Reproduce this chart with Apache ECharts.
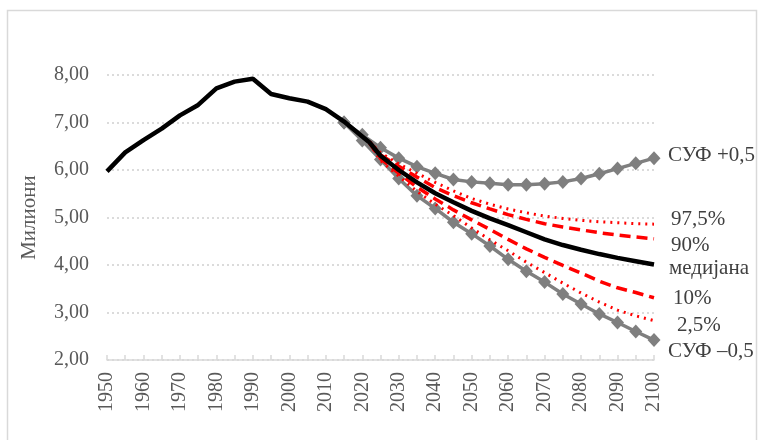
<!DOCTYPE html>
<html>
<head>
<meta charset="utf-8">
<script src="https://cdn.jsdelivr.net/npm/echarts@6/dist/echarts.min.js"></script>
<style>
html,body{margin:0;padding:0;background:#fff;}
#chart{width:762px;height:440px;}
</style>
</head>
<body>
<div id="chart"></div>
<script>
// Historical population (millions)
var histYears = [1950,1955,1960,1965,1970,1975,1980,1985,1990,1995,2000,2005,2010,2015];
var histValues = [5.97,6.37,6.63,6.87,7.15,7.37,7.72,7.86,7.92,7.60,7.51,7.44,7.28,7.02];

// Probabilistic projection
var projYears = [2022,2025,2030,2035,2040,2045,2050,2055,2060,2065,2070,2075,2080,2085,2090,2095,2100];
var median = [6.58,6.30,6.00,5.74,5.51,5.32,5.14,4.98,4.84,4.69,4.54,4.42,4.32,4.23,4.15,4.08,4.01];
var p975   = [6.60,6.36,6.13,5.93,5.74,5.56,5.40,5.28,5.18,5.10,5.03,4.98,4.94,4.91,4.89,4.87,4.86];
var p90    = [6.59,6.32,6.08,5.85,5.63,5.46,5.31,5.18,5.06,4.96,4.87,4.80,4.74,4.68,4.63,4.59,4.55];
var p10    = [6.57,6.24,5.93,5.64,5.39,5.16,4.95,4.75,4.54,4.34,4.16,3.99,3.83,3.66,3.52,3.42,3.31];
var p025   = [6.56,6.20,5.87,5.55,5.28,5.04,4.78,4.53,4.30,4.06,3.84,3.62,3.41,3.22,3.05,2.93,2.83];

// Deterministic TFR variants
var sufYears = [2015,2020,2025,2030,2035,2040,2045,2050,2055,2060,2065,2070,2075,2080,2085,2090,2095,2100];
var sufPlus  = [7.00,6.74,6.47,6.25,6.07,5.93,5.80,5.75,5.72,5.69,5.69,5.71,5.75,5.82,5.92,6.03,6.14,6.25];
var sufMinus = [7.00,6.62,6.22,5.82,5.46,5.19,4.90,4.66,4.40,4.12,3.87,3.64,3.39,3.18,2.97,2.79,2.60,2.42];

// Texts
var yAxisName = 'Милиони';
var endLabels = ['СУФ +0,5','97,5%','90%','медијана','10%','2,5%','СУФ \u20130,5'];

function pairs(xs, ys){ return xs.map(function(x,i){ return [x, ys[i]]; }); }

var FONT = '"Liberation Serif","Times New Roman",serif';
var chart = echarts.init(document.getElementById('chart'), null, {renderer:'canvas'});

var blackData = pairs(histYears, histValues).concat(pairs(projYears, median));

var labelPos = [
  [668,157],[671,221],[671,247],[669,270],[673,300],[677,327],[668,353]
];

chart.setOption({
  animation:false,
  backgroundColor:'#fff',
  grid:{left:107,right:108,top:75,bottom:80,containLabel:false},
  xAxis:{
    type:'value', min:1950, max:2100, interval:5,
    axisLine:{show:true,lineStyle:{color:'#d9d9d9',width:1.5}},
    axisTick:{show:true,inside:true,length:5,lineStyle:{color:'#d9d9d9',width:1.5}},
    splitLine:{show:false},
    axisLabel:{
      rotate:90, margin:12, fontSize:20, color:'#595959', fontFamily:FONT,
      formatter:function(v){ return v % 10 === 0 ? String(v) : ''; }
    }
  },
  yAxis:{
    type:'value', min:2, max:8, interval:1,
    name:yAxisName, nameLocation:'middle', nameGap:67, nameRotate:90,
    nameTextStyle:{fontSize:21,color:'#595959',fontFamily:FONT},
    axisLine:{show:false}, axisTick:{show:false},
    splitLine:{show:true,lineStyle:{color:'#d0d0d0',type:[2,3],width:1.5}},
    axisLabel:{margin:18,fontSize:20,color:'#595959',fontFamily:FONT,
      formatter:function(v){ return v.toFixed(2).replace('.',','); }}
  },
  series:[
    {type:'line', name:'СУФ +0,5', data:pairs(sufYears,sufPlus), symbol:'diamond', symbolSize:[13,14],
      showSymbol:true, itemStyle:{color:'#7f7f7f'}, lineStyle:{color:'#7f7f7f',width:3.5}, z:2},
    {type:'line', name:'СУФ -0,5', data:pairs(sufYears,sufMinus), symbol:'diamond', symbolSize:[13,14],
      showSymbol:true, itemStyle:{color:'#7f7f7f'}, lineStyle:{color:'#7f7f7f',width:3.5}, z:2},
    {type:'line', name:'97,5%', data:pairs(projYears,p975), showSymbol:false, symbol:'none',
      lineStyle:{color:'#ff0000',width:3,type:[2,5]}, z:3},
    {type:'line', name:'2,5%', data:pairs(projYears,p025), showSymbol:false, symbol:'none',
      lineStyle:{color:'#ff0000',width:3,type:[2,5]}, z:3},
    {type:'line', name:'90%', data:pairs(projYears,p90), showSymbol:false, symbol:'none',
      lineStyle:{color:'#ff0000',width:3.5,type:[11,6]}, z:3},
    {type:'line', name:'10%', data:pairs(projYears,p10), showSymbol:false, symbol:'none',
      lineStyle:{color:'#ff0000',width:3.5,type:[11,6]}, z:3},
    {type:'line', name:'медијана', data:blackData, showSymbol:false, symbol:'none',
      lineStyle:{color:'#000000',width:4.5}, z:4}
  ],
  graphic:[
    {type:'rect', shape:{x:7.5,y:10.5,width:749,height:445}, style:{fill:'none',stroke:'#d9d9d9',lineWidth:1.5}, silent:true, z:-1}
  ].concat(endLabels.map(function(t,i){
    return {type:'text', left:labelPos[i][0], top:labelPos[i][1]-12,
      style:{text:t, fill:'#404040', font:'21px '+FONT}};
  }))
});
</script>
</body>
</html>
